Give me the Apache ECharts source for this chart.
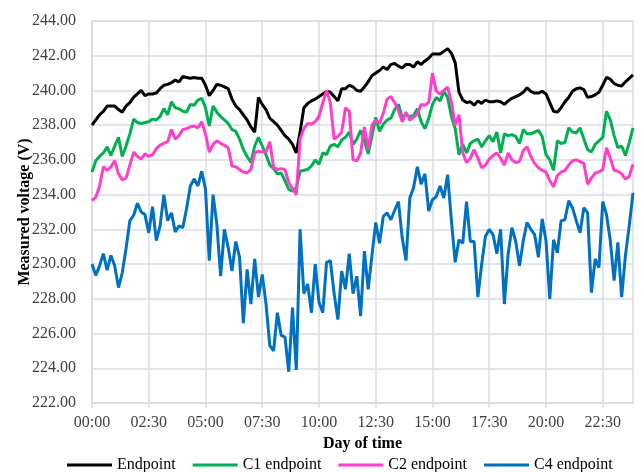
<!DOCTYPE html>
<html>
<head>
<meta charset="utf-8">
<script src="https://cdn.jsdelivr.net/npm/echarts@6/dist/echarts.min.js"></script>
<style>
  html, body { margin: 0; padding: 0; background: #ffffff; }
  #chart { width: 641px; height: 472px; }
</style>
</head>
<body>
<div id="chart"></div>
<script>
// Measured voltage at four points of the feeder, sampled every 10 minutes over one day.
const seriesNames = ['Endpoint', 'C1 endpoint', 'C2 endpoint', 'C4 endpoint'];
const seriesColors = ['#000000', '#00B050', '#FF3FCC', '#0070C0'];

// Time of day labels, 00:00 .. 23:50 in 10-minute steps.
const timeLabels = [];
for (let h = 0; h < 24; h++) {
  for (let m = 0; m < 60; m += 10) {
    timeLabels.push(String(h).padStart(2, '0') + ':' + String(m).padStart(2, '0'));
  }
}

const endpoint = [
  238.0, 238.3, 238.6, 238.8, 239.1, 239.1, 239.1, 238.9, 238.75, 239.1,
  239.3, 239.6, 239.8, 240.0, 239.7, 239.8, 239.8, 239.85, 240.1, 240.3,
  240.35, 240.45, 240.6, 240.5, 240.8, 240.75, 240.7, 240.75, 240.7, 240.7,
  240.3, 239.7, 240.0, 240.35, 240.3, 240.2, 240.1, 239.5, 239.1, 238.9,
  238.6, 238.3, 237.9, 237.6, 239.6, 239.2, 238.9, 238.4, 238.2, 238.0,
  237.7, 237.4, 237.2, 236.9, 236.4, 237.6, 239.0, 239.25, 239.4, 239.5,
  239.65, 239.8, 239.95, 239.9, 239.65, 239.4, 240.1, 240.1, 240.3, 240.2,
  240.0, 239.95, 240.2, 240.5, 240.85, 241.0, 241.15, 241.35, 241.2, 241.5,
  241.55, 241.4, 241.3, 241.5, 241.5, 241.35, 241.65, 241.5, 241.7, 241.85,
  242.1, 242.1, 242.1, 242.25, 242.4, 242.15, 241.6, 239.9, 239.45, 239.3,
  239.35, 239.15, 239.4, 239.25, 239.45, 239.35, 239.35, 239.4, 239.35, 239.2,
  239.4, 239.55, 239.65, 239.75, 239.9, 240.15, 239.95, 239.85, 239.85, 239.95,
  239.8, 239.3, 238.8, 238.75, 239.0, 239.35, 239.6, 239.95, 240.1, 240.15,
  240.05, 239.6, 239.65, 239.75, 239.9, 240.3, 240.75, 240.65, 240.4, 240.3,
  240.25, 240.5, 240.7, 240.9
];

const c1Endpoint = [
  235.3, 235.95, 236.2, 236.4, 236.75, 236.25, 236.8, 237.3, 236.2, 236.8,
  237.5, 238.35, 238.15, 238.1, 238.15, 238.2, 238.35, 238.3, 238.5, 238.95,
  238.6, 239.35, 239.0, 238.95, 238.8, 238.75, 239.2, 239.15, 239.45, 239.55,
  239.0, 237.95, 239.1, 238.75, 238.5, 238.3, 238.1, 237.75, 237.65, 237.2,
  236.6, 236.2, 235.85, 236.8, 237.3, 236.8, 236.3, 235.7, 235.5, 235.2,
  235.25, 234.8, 234.3, 234.2, 234.4, 235.35, 235.4, 235.45, 235.65, 236.0,
  235.75, 236.4, 236.3, 236.8, 236.9, 236.75, 237.15, 237.3, 237.6, 236.9,
  237.2, 237.7, 237.1, 236.35, 237.4, 238.45, 237.65, 238.05, 238.3, 238.4,
  238.9, 239.2, 238.45, 238.6, 238.5, 238.55, 238.95, 238.2, 237.8, 238.4,
  239.2, 239.6, 239.4, 239.95, 239.6, 238.5, 237.8, 236.3, 236.9, 236.4,
  236.95, 237.1, 237.2, 236.75, 237.1, 237.4, 237.05, 237.6, 236.4, 237.5,
  237.4, 237.45, 237.35, 236.95, 237.75, 237.5, 237.5, 237.6, 237.7, 237.35,
  236.3, 236.0, 235.4, 237.1, 236.95, 237.0, 237.85, 237.6, 237.55, 237.85,
  237.2, 236.6, 236.45, 236.9, 237.1, 237.3, 238.8, 238.3, 237.4, 236.7,
  236.8, 236.25, 237.0, 237.85
];

const c2Endpoint = [
  233.65, 233.85, 234.5, 235.6, 235.4, 235.6, 235.95, 235.2, 234.85, 234.95,
  235.7, 236.45, 236.2, 236.05, 236.35, 236.2, 236.3, 236.65, 236.85, 236.95,
  237.05, 237.75, 237.2, 237.4, 237.75, 237.8, 237.9, 237.95, 237.85, 238.2,
  237.5, 236.45, 236.9, 237.1, 236.95, 236.85, 236.7, 235.65, 235.6, 235.45,
  235.3, 235.25, 235.45, 236.4, 236.5, 236.45, 236.45, 237.05, 235.55, 235.45,
  235.5, 235.45, 234.7, 234.35, 234.0, 237.2, 237.8, 238.1, 238.05, 238.2,
  238.5, 239.3, 240.0, 239.3, 237.2, 237.35, 237.6, 239.0, 238.8, 236.0,
  235.95, 236.4, 237.9, 236.6, 238.0, 238.3, 238.1, 238.7, 239.5, 239.65,
  239.3, 238.85, 238.2, 238.75, 238.3, 238.45, 238.65, 239.2, 239.15, 239.3,
  241.0, 239.95, 239.8, 240.0, 240.2, 239.3, 238.0, 238.6, 236.4, 235.85,
  236.1, 236.6, 236.1, 235.55, 235.7, 236.05, 236.25, 236.4, 236.1, 235.7,
  236.4, 236.0, 235.85, 235.9, 236.55, 236.75, 236.2, 235.8, 235.55, 235.4,
  235.3, 234.8, 234.45, 235.1, 235.3, 235.4, 235.7, 235.95, 236.0, 235.9,
  235.8, 234.6, 234.95, 235.25, 235.3, 235.45, 236.7, 236.1, 235.4, 235.35,
  235.2, 234.9, 235.05, 235.75
];

const c4Endpoint = [
  230.0, 229.35, 229.9, 230.6, 229.65, 230.5, 229.9, 228.65, 229.5, 230.9,
  232.5, 232.8, 233.5, 233.0, 232.85, 231.8, 233.3, 231.35, 232.2, 234.0,
  232.5, 232.95, 231.85, 232.2, 232.1, 233.2, 234.5, 234.9, 234.5, 235.35,
  234.3, 230.2, 234.0, 232.3, 229.3, 232.0, 230.95, 229.6, 231.3, 230.4,
  226.6, 229.7, 227.7, 230.3, 228.1, 229.4, 227.7, 225.3, 225.0, 227.2,
  225.9, 225.8, 223.8, 227.5, 223.9, 232.0, 228.3, 228.85, 227.2, 230.0,
  227.8, 227.2, 230.1, 230.2, 228.3, 226.8, 229.6, 228.55, 230.6, 228.3,
  229.3, 227.0, 230.75, 228.55, 230.5, 232.4, 231.2, 232.75, 232.95, 232.55,
  233.1, 233.6, 231.5, 230.2, 233.8, 234.4, 235.6, 234.6, 235.2, 233.05,
  233.7, 233.9, 234.5, 233.8, 235.15, 232.5, 230.1, 231.4, 231.2, 233.6,
  231.3, 231.3, 228.1, 230.0, 231.6, 232.0, 231.7, 230.6, 232.0, 227.7,
  230.6, 232.1, 231.3, 229.9, 231.35, 232.4, 232.0, 231.7, 230.4, 232.6,
  231.35, 228.0, 231.4, 230.65, 232.5, 232.55, 233.65, 233.25, 232.5, 231.8,
  233.25, 232.95, 228.35, 230.3, 229.8, 233.6, 232.85, 231.35, 229.05, 231.25,
  228.1, 230.5, 232.2, 234.1
];

const yMin = 222, yMax = 244, yStep = 2;
const allValues = [endpoint, c1Endpoint, c2Endpoint, c4Endpoint];

const serif = '"Liberation Serif", "Times New Roman", serif';
const gridColor = '#D9DEE6';

const chart = echarts.init(document.getElementById('chart'), null, { renderer: 'canvas' });

chart.setOption({
  animation: false,
  backgroundColor: '#ffffff',
  grid: {
    left: 92, right: 8, top: 21, bottom: 69,
    show: true, borderColor: gridColor, borderWidth: 1.5
  },
  xAxis: {
    type: 'category',
    data: timeLabels,
    boundaryGap: false,
    name: 'Day of time',
    nameLocation: 'middle',
    nameGap: 33,
    nameMoveOverlap: false,
    nameTextStyle: { fontFamily: serif, fontSize: 16, fontWeight: 'bold', color: '#000' },
    axisLine: { show: true, lineStyle: { color: gridColor, width: 1.5 } },
    axisTick: { show: true, interval: 14, length: 5, lineStyle: { color: gridColor, width: 1.5 } },
    axisLabel: { interval: 14, margin: 12, fontFamily: serif, fontSize: 16, color: '#404040' },
    splitLine: { show: true, interval: 14, lineStyle: { color: gridColor, width: 1.5 } }
  },
  yAxis: {
    type: 'value',
    min: yMin, max: yMax, interval: yStep,
    name: 'Measured voltage (V)',
    nameLocation: 'middle',
    nameGap: 59,
    nameMoveOverlap: false,
    nameTextStyle: { fontFamily: serif, fontSize: 16, fontWeight: 'bold', color: '#000' },
    axisLine: { show: true, lineStyle: { color: gridColor, width: 1.5 } },
    axisTick: { show: false },
    axisLabel: {
      margin: 16, fontFamily: serif, fontSize: 16, color: '#404040',
      formatter: v => v.toFixed(2)
    },
    splitLine: { show: true, lineStyle: { color: gridColor, width: 1.5 } }
  },
  legend: {
    left: 62, top: 452,
    icon: 'rect', itemWidth: 45, itemHeight: 3, itemGap: 17,
    textStyle: { fontFamily: serif, fontSize: 16, color: '#000' },
    data: seriesNames
  },
  series: seriesNames.map((name, i) => ({
    name: name,
    type: 'line',
    data: allValues[i],
    showSymbol: false,
    symbol: 'none',
    lineStyle: { color: seriesColors[i], width: 3 },
    itemStyle: { color: seriesColors[i] }
  }))
});
</script>
</body>
</html>
